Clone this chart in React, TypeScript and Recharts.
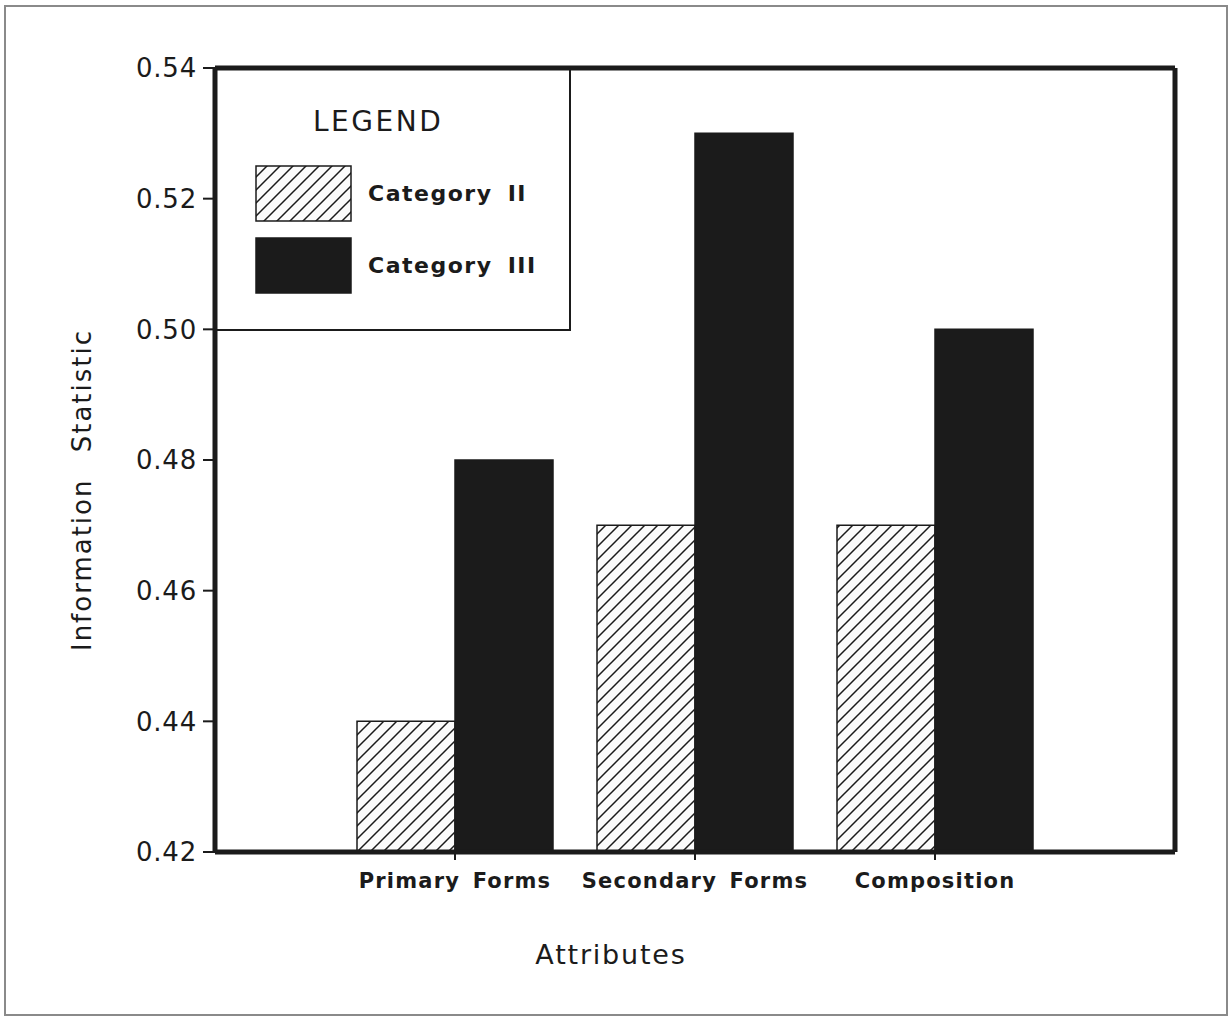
import { BarChart, Bar, XAxis, YAxis, Legend } from "recharts"

const ATTRIBUTES = ["Primary Forms", "Secondary Forms", "Composition"]
const CATEGORY_II = [0.44, 0.47, 0.47]
const CATEGORY_III = [0.48, 0.53, 0.5]
const Y_TICKS = [0.42, 0.44, 0.46, 0.48, 0.5, 0.52, 0.54]

const INK = "#1b1b1b"
const FONT = "'DejaVu Sans', 'Liberation Sans', sans-serif"

const data = ATTRIBUTES.map((attribute, i) => ({
  attribute,
  cat2: CATEGORY_II[i],
  cat3: CATEGORY_III[i]
}))

function Hatch({ id }: { id: string }) {
  return (
    <pattern id={id} patternUnits="userSpaceOnUse" width={13} height={13}>
      <rect width={13} height={13} fill="#fbfbfb" />
      <path d="M0,13 L13,0 M-4,4 L4,-4 M9,17 L17,9" stroke={INK} strokeWidth={1.5} />
    </pattern>
  )
}

function LegendBox(props: any) {
  const items = props.payload || []
  return (
    <div
      style={{
        width: 356,
        height: 263,
        borderRight: `2px solid ${INK}`,
        borderBottom: `2px solid ${INK}`,
        boxSizing: "border-box",
        fontFamily: FONT,
        color: INK,
        position: "relative"
      }}
    >
      <div style={{ position: "absolute", left: 98, top: 37, fontSize: 28, letterSpacing: 2.5 }}>LEGEND</div>
      {items.map((item: any, i: number) => (
        <div key={item.value} style={{ position: "absolute", left: 40, top: 97 + i * 72, display: "flex", alignItems: "center" }}>
          <svg width={97} height={57}>
            <defs>
              <Hatch id="legend-hatch" />
            </defs>
            <rect
              x={1}
              y={1}
              width={95}
              height={55}
              fill={item.dataKey === "cat2" ? "url(#legend-hatch)" : INK}
              stroke={INK}
              strokeWidth={1.5}
            />
          </svg>
          <span style={{ marginLeft: 16, fontSize: 22, fontWeight: 700, letterSpacing: 1.5, wordSpacing: 6 }}>
            {item.value}
          </span>
        </div>
      ))}
    </div>
  )
}

export default function App() {
  return (
    <div style={{ position: "absolute", left: 0, top: 0, width: 1231, height: 1019, background: "#fff" }}>
      <div
        style={{
          position: "absolute",
          left: 4,
          top: 5,
          width: 1224,
          height: 1011,
          border: "2px solid #8a8a8a",
          boxSizing: "border-box"
        }}
      />
      <BarChart
        width={1231}
        height={1019}
        data={data}
        margin={{ top: 67, right: 55, bottom: 47, left: 65 }}
        barGap={0}
        barSize={98}
        style={{ position: "absolute", left: 0, top: 0 }}
      >
        <defs>
          <Hatch id="bar-hatch" />
        </defs>
        <XAxis
          dataKey="attribute"
          height={120}
          interval={0}
          padding={{ left: 120, right: 120 }}
          axisLine={{ stroke: INK, strokeWidth: 5 }}
          tickLine={{ stroke: INK, strokeWidth: 2 }}
          tickSize={8}
          tickMargin={13}
          tick={{ fill: INK, fontSize: 21, fontWeight: 700, fontFamily: FONT, letterSpacing: 1.2, wordSpacing: 4 }}
          label={{
            value: "Attributes",
            position: "insideBottom",
            offset: 8,
            dx: -84,
            fill: INK,
            fontSize: 27,
            fontFamily: FONT,
            letterSpacing: 1.8
          }}
        />
        <XAxis
          xAxisId="top"
          orientation="top"
          dataKey="attribute"
          height={1}
          tick={false}
          tickLine={false}
          axisLine={{ stroke: INK, strokeWidth: 5 }}
        />
        <YAxis
          width={150}
          domain={[0.42, 0.54]}
          ticks={Y_TICKS}
          allowDataOverflow
          tickFormatter={(v: number) => v.toFixed(2)}
          axisLine={{ stroke: INK, strokeWidth: 5 }}
          tickLine={{ stroke: INK, strokeWidth: 2 }}
          tickSize={12}
          tickMargin={6}
          tick={{ fill: INK, fontSize: 26, fontFamily: FONT, letterSpacing: 0.8 }}
          label={{
            value: "Information Statistic",
            angle: -90,
            position: "insideLeft",
            offset: 17,
            dy: 30,
            fill: INK,
            fontSize: 26,
            fontFamily: FONT,
            letterSpacing: 2,
            wordSpacing: 16,
            style: { textAnchor: "middle" }
          }}
        />
        <YAxis
          yAxisId="right"
          orientation="right"
          width={1}
          domain={[0.42, 0.54]}
          allowDataOverflow
          tick={false}
          tickLine={false}
          axisLine={{ stroke: INK, strokeWidth: 5 }}
        />
        <Legend
          layout="vertical"
          align="center"
          verticalAlign="middle"
          content={<LegendBox />}
          wrapperStyle={{ left: 215, top: 68, width: 356, height: 263 }}
        />
        <Bar
          dataKey="cat2"
          name="Category II"
          fill="url(#bar-hatch)"
          stroke={INK}
          strokeWidth={1.5}
          isAnimationActive={false}
        />
        <Bar
          dataKey="cat3"
          name="Category III"
          fill={INK}
          stroke={INK}
          strokeWidth={1.5}
          isAnimationActive={false}
        />
      </BarChart>
    </div>
  )
}
